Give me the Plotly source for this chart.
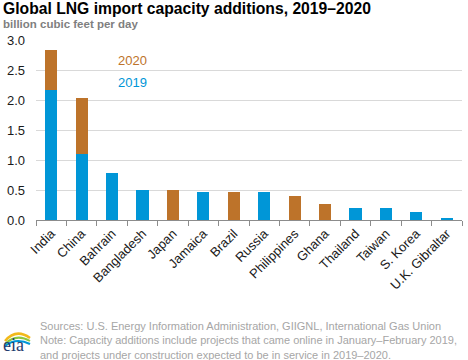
import plotly.graph_objects as go

countries = ["India", "China", "Bahrain", "Bangladesh", "Japan", "Jamaica", "Brazil",
             "Russia", "Philippines", "Ghana", "Thailand", "Taiwan", "S. Korea", "U.K. Gibraltar"]
cap_2019 = [2.17, 1.10, 0.78, 0.50, 0.0, 0.47, 0.0, 0.47, 0.0, 0.0, 0.20, 0.20, 0.13, 0.02]
cap_2020 = [0.66, 0.93, 0.0, 0.0, 0.50, 0.0, 0.47, 0.0, 0.40, 0.27, 0.0, 0.0, 0.0, 0.0]
y_ticks = [0.0, 0.5, 1.0, 1.5, 2.0, 2.5, 3.0]

BLUE = "#0096d7"
BROWN = "#bd732a"

L, R, T, B = 36, 6, 40, 140
W, H = 468, 360
PW, PH = W - L - R, H - T - B


def px(x):
    return (x - L) / PW


def py(y):
    return (H - B - y) / PH


fig = go.Figure()
fig.add_trace(go.Bar(x=countries, y=cap_2019, name="2019", marker_color=BLUE, marker_line_width=0))
fig.add_trace(go.Bar(x=countries, y=cap_2020, name="2020", marker_color=BROWN, marker_line_width=0))

fig.update_layout(
    barmode="stack",
    bargap=0.6,
    width=W, height=H,
    margin=dict(l=L, r=R, t=T, b=B, autoexpand=False),
    plot_bgcolor="white", paper_bgcolor="white",
    showlegend=False,
    font=dict(family="Liberation Sans, Arial, sans-serif", size=13, color="#1a1a1a"),
)
fig.update_yaxes(
    range=[0, 3.005], tickvals=y_ticks, ticktext=[f"{v:.1f}" for v in y_ticks],
    showgrid=True, gridcolor="#d9d9d9", gridwidth=1, zeroline=False,
    ticks="", ticklabelstandoff=10, tickfont=dict(size=13, color="#1a1a1a"),
    automargin=False,
)
fig.update_xaxes(
    tickangle=-45, showline=True, linecolor="#8c8c8c", linewidth=1,
    ticks="outside", tickson="boundaries", ticklen=5, tickcolor="#8c8c8c",
    tickfont=dict(size=13, color="#1a1a1a"), automargin=False,
)

fig.add_annotation(text="<b>Global LNG import capacity additions, 2019–2020</b>",
                   xref="paper", yref="paper", x=px(1), y=py(9),
                   xanchor="left", yanchor="middle", showarrow=False,
                   font=dict(size=15.7, color="black"))
fig.add_annotation(text="<b>billion cubic feet per day</b>",
                   xref="paper", yref="paper", x=px(1), y=py(24),
                   xanchor="left", yanchor="middle", showarrow=False,
                   font=dict(size=11.5, color="#7f7f7f"))
fig.add_annotation(text="2020", xref="paper", yref="y", x=px(132), y=2.67,
                   xanchor="center", yanchor="middle", showarrow=False,
                   font=dict(size=13, color=BROWN))
fig.add_annotation(text="2019", xref="paper", yref="y", x=px(132), y=2.30,
                   xanchor="center", yanchor="middle", showarrow=False,
                   font=dict(size=13, color=BLUE))
fig.add_annotation(
    text="Sources: U.S. Energy Information Administration, GIIGNL, International Gas Union<br>"
         "Note: Capacity additions include projects that came online in January–February 2019,<br>"
         "and projects under construction expected to be in service in 2019–2020.",
    xref="paper", yref="paper", x=px(38), y=py(318),
    xanchor="left", yanchor="top", align="left", showarrow=False,
    font=dict(size=11, color="#a6a6a6"))
# eia logo
fig.add_annotation(text="eia", xref="paper", yref="paper", x=px(1), y=py(357),
                   xanchor="left", yanchor="bottom", showarrow=False,
                   font=dict(size=18, color="#1f3c6e", family="Liberation Serif, serif"))
for (y0, y1, y2, col, w) in [(341, 328, 338, "#f2b91a", 2.5),
                             (344, 333, 341, "#8dc63f", 2),
                             (346, 337, 344, "#0096d7", 2)]:
    fig.add_shape(type="path", xref="paper", yref="paper",
                  path="M %f %f Q %f %f %f %f" % (px(5), py(y0), px(16), py(y1), px(30), py(y2)),
                  line=dict(color=col, width=w))

fig.write_html("out.html", config={"displayModeBar": False},
               post_script="document.body.style.margin='0';document.body.style.overflow='hidden';")
